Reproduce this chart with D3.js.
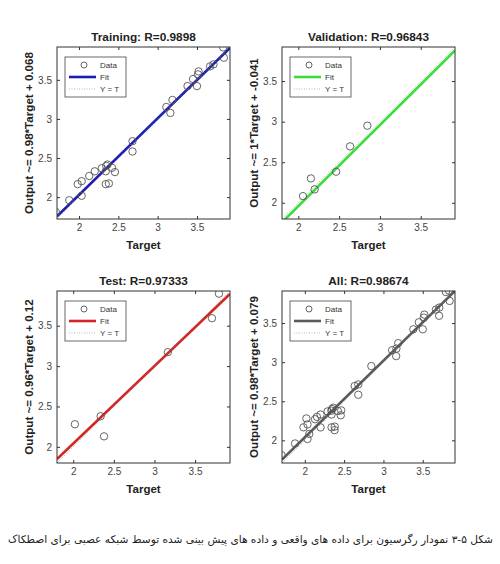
<!DOCTYPE html>
<html>
<head>
<meta charset="utf-8">
<script src="https://cdn.jsdelivr.net/npm/d3@7"></script>
<style>
  body { margin: 0; background: #fff; }
  text { font-family: "Liberation Sans", Arial, sans-serif; }
</style>
</head>
<body>
<script>
// data (target, output)
var trainTarget = [1.705, 1.876, 1.983, 2.034, 2.034, 2.13, 2.20, 2.29, 2.346, 2.363, 2.34, 2.34, 2.38, 2.42, 2.457,
  2.68, 2.68, 3.11, 3.162, 3.188, 3.38, 3.45, 3.50, 3.513, 3.52, 3.667, 3.71, 3.833, 3.842];
var trainOutput = [1.81, 1.96, 2.166, 2.204, 2.017, 2.27, 2.33, 2.37, 2.40, 2.417, 2.33, 2.166, 2.175, 2.375, 2.32,
  2.715, 2.583, 3.153, 3.077, 3.243, 3.42, 3.51, 3.42, 3.57, 3.608, 3.672, 3.698, 3.915, 3.783];
var valTarget = [2.057, 2.154, 2.20, 2.463, 2.634, 2.846];
var valOutput = [2.082, 2.30, 2.165, 2.383, 2.695, 2.95];
var testTarget = [2.02, 2.337, 2.379, 3.165, 3.708, 3.794];
var testOutput = [2.28, 2.379, 2.13, 3.173, 3.593, 3.897];

var titles = ['Training: R=0.9898', 'Validation: R=0.96843', 'Test: R=0.97333', 'All: R=0.98674'];
var yLabels = ['Output ~= 0.98*Target + 0.068', 'Output ~= 1*Target + -0.041',
  'Output ~= 0.96*Target + 0.12', 'Output ~= 0.98*Target + 0.079'];
var slopes = [0.98, 1, 0.96, 0.98];
var intercepts = [0.068, -0.041, 0.12, 0.079];
var fitColors = ['#1c1cb0', '#3ddc3d', '#d42424', '#5a5a5a'];
var domains = [[1.72, 3.92], [1.8, 3.92], [1.8, 3.93], [1.71, 3.91]];
var tickValues = [2, 2.5, 3, 3.5];
var legendLabels = ['Data', 'Fit', 'Y = T'];
var caption = 'شکل ۵-۳ نمودار رگرسیون برای داده های واقعی و داده های پیش بینی شده توسط شبکه عصبی برای اصطکاک';

var allTarget = trainTarget.concat(valTarget, testTarget);
var allOutput = trainOutput.concat(valOutput, testOutput);
var targets = [trainTarget, valTarget, testTarget, allTarget];
var outputs = [trainOutput, valOutput, testOutput, allOutput];

var svg = d3.select('body').append('svg')
  .attr('width', 500)
  .attr('height', 564);

var lefts = [57, 282, 57, 282];
var tops = [47, 47, 291, 291];
var w = 173, h = 172;

titles.forEach(function (title, i) {
  var g = svg.append('g')
    .attr('transform', 'translate(' + lefts[i] + ',' + tops[i] + ')');

  var x = d3.scaleLinear().domain(domains[i]).range([0, w]);
  var y = d3.scaleLinear().domain(domains[i]).range([h, 0]);

  g.append('defs').append('clipPath').attr('id', 'clip' + i)
    .append('rect').attr('width', w).attr('height', h);

  var plot = g.append('g').attr('clip-path', 'url(#clip' + i + ')');

  // fit line
  plot.append('line')
    .attr('x1', x(domains[i][0])).attr('y1', y(slopes[i] * domains[i][0] + intercepts[i]))
    .attr('x2', x(domains[i][1])).attr('y2', y(slopes[i] * domains[i][1] + intercepts[i]))
    .attr('stroke', fitColors[i]).attr('stroke-width', 2.6);

  // Y = T
  plot.append('line')
    .attr('x1', x(domains[i][0])).attr('y1', y(domains[i][0]))
    .attr('x2', x(domains[i][1])).attr('y2', y(domains[i][1]))
    .attr('stroke', '#888').attr('stroke-width', 0.6).attr('stroke-dasharray', '1,1.5');

  plot.selectAll('circle')
    .data(targets[i])
    .enter().append('circle')
    .attr('cx', function (d) { return x(d); })
    .attr('cy', function (d, j) { return y(outputs[i][j]); })
    .attr('r', 3.7)
    .attr('fill', 'none')
    .attr('stroke', '#555')
    .attr('stroke-width', 0.9);

  // axes with inward ticks on all sides
  var axB = g.append('g').attr('transform', 'translate(0,' + h + ')')
    .call(d3.axisBottom(x).tickValues(tickValues).tickSize(-3).tickPadding(5).tickFormat(d3.format('')));
  var axL = g.append('g')
    .call(d3.axisLeft(y).tickValues(tickValues).tickSize(-3).tickPadding(5).tickFormat(d3.format('')));
  var axT = g.append('g')
    .call(d3.axisTop(x).tickValues(tickValues).tickSize(-3).tickFormat(''));
  var axR = g.append('g').attr('transform', 'translate(' + w + ',0)')
    .call(d3.axisRight(y).tickValues(tickValues).tickSize(-3).tickFormat(''));
  [axB, axL, axT, axR].forEach(function (a) {
    a.select('.domain').remove();
    a.selectAll('line').attr('stroke', '#333');
    a.selectAll('text').attr('fill', '#444').style('font-size', '10px')
      .style('font-family', '"Liberation Sans", Arial, sans-serif');
  });

  g.append('rect')
    .attr('width', w).attr('height', h)
    .attr('fill', 'none').attr('stroke', '#333').attr('stroke-width', 1);

  // legend
  var lg = g.append('g').attr('transform', 'translate(8,10)');
  lg.append('rect').attr('width', 61).attr('height', 40)
    .attr('fill', '#fff').attr('stroke', '#444').attr('stroke-width', 0.8);
  lg.append('circle').attr('cx', 19).attr('cy', 8).attr('r', 3)
    .attr('fill', 'none').attr('stroke', '#555').attr('stroke-width', 0.9);
  lg.append('line').attr('x1', 4).attr('x2', 31).attr('y1', 20).attr('y2', 20)
    .attr('stroke', fitColors[i]).attr('stroke-width', 2.6);
  lg.append('line').attr('x1', 4).attr('x2', 31).attr('y1', 32).attr('y2', 32)
    .attr('stroke', '#999').attr('stroke-width', 0.7).attr('stroke-dasharray', '1,1.5');
  lg.selectAll('text.lab')
    .data(legendLabels)
    .enter().append('text')
    .attr('class', 'lab')
    .attr('x', 35)
    .attr('y', function (d, j) { return 11 + j * 12; })
    .attr('fill', '#333')
    .style('font-size', '8px')
    .text(function (d) { return d; });

  g.append('text')
    .attr('x', w / 2).attr('y', -6)
    .attr('text-anchor', 'middle')
    .attr('fill', '#222')
    .style('font-size', '11.8px').style('font-weight', 'bold')
    .text(title);

  g.append('text')
    .attr('x', w / 2).attr('y', h + 30)
    .attr('text-anchor', 'middle')
    .attr('fill', '#222')
    .style('font-size', '11.5px').style('font-weight', 'bold')
    .text('Target');

  g.append('text')
    .attr('transform', 'translate(-24,' + (h / 2) + ') rotate(-90)')
    .attr('text-anchor', 'middle')
    .attr('fill', '#222')
    .style('font-size', '11.6px').style('font-weight', 'bold')
    .text(yLabels[i]);
});

svg.append('text')
  .attr('x', 493).attr('y', 543)
  .attr('direction', 'rtl')
  .attr('text-anchor', 'start')
  .attr('fill', '#222')
  .style('font-family', '"DejaVu Sans", sans-serif')
  .style('font-size', '10.6px')
  .text(caption);
</script>
</body>
</html>
